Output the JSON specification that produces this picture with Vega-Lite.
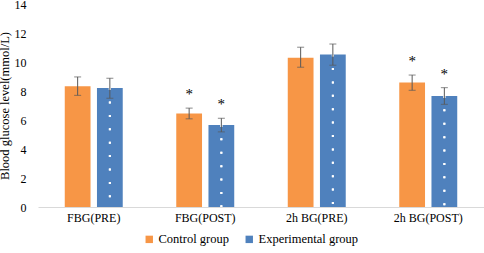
{
  "$schema": "https://vega.github.io/schema/vega-lite/v6.json",
  "width": 446,
  "height": 203,
  "autosize": {"type": "none"},
  "padding": {"left": 38, "top": 4, "right": 0, "bottom": 46},
  "background": "white",
  "config": {
    "font": "Liberation Serif",
    "view": {"stroke": null},
    "axis": {"grid": false, "labelFont": "Liberation Serif", "titleFont": "Liberation Serif", "labelColor": "#000000", "titleColor": "#000000", "labelFontSize": 12, "titleFontSize": 12.5, "titleFontWeight": "normal"},
    "axisY": {"values": [0, 2, 4, 6, 8, 10, 12, 14], "labelOverlap": false, "domain": false, "ticks": false, "labelPadding": 12, "titlePadding": 3}
  },
  "data": {
    "values": [
      {"time": "FBG(PRE)", "group": "Control group", "value": 8.33, "lo": 7.7, "hi": 8.97, "sig": ""},
      {"time": "FBG(PRE)", "group": "Experimental group", "value": 8.2, "lo": 7.5, "hi": 8.88, "sig": ""},
      {"time": "FBG(POST)", "group": "Control group", "value": 6.44, "lo": 6.08, "hi": 6.82, "sig": "*"},
      {"time": "FBG(POST)", "group": "Experimental group", "value": 5.66, "lo": 5.18, "hi": 6.12, "sig": "*"},
      {"time": "2h BG(PRE)", "group": "Control group", "value": 10.3, "lo": 9.64, "hi": 11.02, "sig": ""},
      {"time": "2h BG(PRE)", "group": "Experimental group", "value": 10.51, "lo": 9.78, "hi": 11.24, "sig": ""},
      {"time": "2h BG(POST)", "group": "Control group", "value": 8.58, "lo": 8.05, "hi": 9.1, "sig": "*"},
      {"time": "2h BG(POST)", "group": "Experimental group", "value": 7.66, "lo": 7.08, "hi": 8.23, "sig": "*"}
    ]
  },
  "encoding": {
    "x": {
      "field": "time", "type": "nominal", "sort": null,
      "scale": {"paddingInner": 0.48, "paddingOuter": 0.24},
      "axis": {"title": null, "labelAngle": 0, "ticks": false, "domainColor": "#d9d9d9", "domainWidth": 1, "labelPadding": 5}
    },
    "xOffset": {"field": "group", "type": "nominal", "scale": {"paddingInner": 0.2, "paddingOuter": 0}}
  },
  "layer": [
    {
      "mark": {"type": "bar"},
      "encoding": {
        "y": {
          "field": "value", "type": "quantitative",
          "scale": {"domain": [0, 14], "nice": false},
          "title": "Blood glucose level(mmol/L)"
        },
        "color": {
          "field": "group", "type": "nominal",
          "scale": {"domain": ["Control group", "Experimental group"], "range": ["#F79646", "#4F81BD"]},
          "legend": {"title": null, "orient": "none", "direction": "horizontal", "legendX": 105, "legendY": 229, "symbolType": "square", "symbolSize": 55, "labelFontSize": 12.5, "labelFont": "Liberation Serif", "labelColor": "#000000", "columnPadding": 14, "symbolOffset": 0, "labelOffset": 3}
        }
      }
    },
    {
      "transform": [{"filter": "datum.group === 'Experimental group'"}],
      "mark": {"type": "rule", "color": "white", "strokeWidth": 2, "strokeDash": [2, 11.4], "xOffset": -3},
      "encoding": {"y": {"field": "value", "type": "quantitative", "title": "Blood glucose level(mmol/L)"}, "y2": {"datum": 0}}
    },
    {
      "transform": [{"filter": "datum.group === 'Experimental group'"}],
      "mark": {"type": "rule", "color": "white", "strokeWidth": 2, "strokeDash": [2, 11.4], "xOffset": 11.5},
      "encoding": {"y": {"field": "value", "type": "quantitative", "title": "Blood glucose level(mmol/L)"}, "y2": {"datum": 0}}
    },
    {
      "mark": {"type": "rule", "color": "#595959", "strokeWidth": 1},
      "encoding": {"y": {"field": "lo", "type": "quantitative", "title": "Blood glucose level(mmol/L)"}, "y2": {"field": "hi"}}
    },
    {
      "mark": {"type": "tick", "color": "#595959", "size": 7, "thickness": 1},
      "encoding": {"y": {"field": "lo", "type": "quantitative", "title": "Blood glucose level(mmol/L)"}}
    },
    {
      "mark": {"type": "tick", "color": "#595959", "size": 7, "thickness": 1},
      "encoding": {"y": {"field": "hi", "type": "quantitative", "title": "Blood glucose level(mmol/L)"}}
    },
    {
      "mark": {"type": "text", "fontSize": 15, "font": "Liberation Serif", "color": "#000000", "baseline": "middle", "dy": -14},
      "encoding": {"y": {"field": "hi", "type": "quantitative", "title": "Blood glucose level(mmol/L)"}, "text": {"field": "sig"}}
    }
  ]
}
